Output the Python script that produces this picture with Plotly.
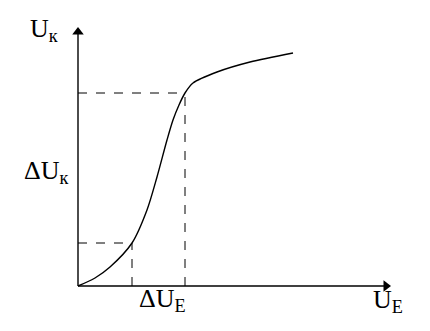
import plotly.graph_objects as go

# curve (x: U_E, y: U_K in arbitrary units)
curve_x = [0, 17, 32, 54, 69, 79, 89, 95, 101, 107, 115, 139, 172, 215]
curve_y = [0, 8, 19, 43, 76, 109, 146, 166, 181, 193, 203, 214, 224, 233]

# operating points for the dashed guides
pt_x = [54, 107]
pt_y = [43, 193]

axis_x_end = 308
axis_y_end = 254

fig = go.Figure()
fig.add_trace(go.Scatter(x=curve_x, y=curve_y, mode="lines",
                         line=dict(color="black", width=1.4, shape="spline", smoothing=0.8),
                         hoverinfo="skip"))

shapes = []
for px, py in zip(pt_x, pt_y):
    shapes.append(dict(type="line", x0=0, y0=py, x1=px, y1=py, xref="x", yref="y",
                       line=dict(color="black", width=1, dash="dash")))
    shapes.append(dict(type="line", x0=px, y0=0, x1=px, y1=py, xref="x", yref="y",
                       line=dict(color="black", width=1, dash="dash")))
shapes.append(dict(type="line", x0=0, y0=0, x1=axis_x_end, y1=0, xref="x", yref="y",
                   line=dict(color="black", width=1.4)))
shapes.append(dict(type="line", x0=0, y0=0, x1=0, y1=axis_y_end, xref="x", yref="y",
                   line=dict(color="black", width=1.4)))

# arrowheads as triangle markers
fig.add_trace(go.Scatter(x=[axis_x_end, 0], y=[0, axis_y_end], mode="markers",
                         marker=dict(symbol=["triangle-right", "triangle-up"], size=10,
                                     color="black", line=dict(width=0)),
                         hoverinfo="skip"))

annotations = []
font = dict(family="Liberation Serif", size=26, color="black")
labels = [
    ("U<sub>к</sub>", -34, 256),
    ("ΔU<sub>к</sub>", -32, 114),
    ("ΔU<sub>E</sub>", 84, -14),
    ("U<sub>E</sub>", 310, -15),
]
for t, x, y in labels:
    annotations.append(dict(x=x, y=y, xref="x", yref="y", text=t, showarrow=False, font=font))

fig.update_layout(
    width=430, height=331, margin=dict(l=0, r=0, t=0, b=0),
    paper_bgcolor="white", plot_bgcolor="white", showlegend=False,
    xaxis=dict(range=[-78, 352], visible=False, fixedrange=True),
    yaxis=dict(range=[-45, 286], visible=False, fixedrange=True),
    shapes=shapes, annotations=annotations,
)
fig.write_html("out.html")
